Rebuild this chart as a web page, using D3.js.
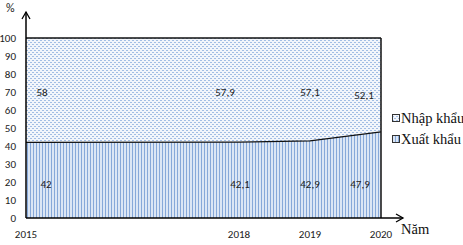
<!DOCTYPE html>
<html><head><meta charset="utf-8">
<script src="https://cdn.jsdelivr.net/npm/d3@7/dist/d3.min.js"></script>
<style>
html,body{margin:0;padding:0;background:#fff;}
svg{display:block;}
.tick-t{font-family:Carlito,"Liberation Sans Narrow","Liberation Sans",sans-serif;font-size:11px;fill:#222;}
.ser{font-family:"Liberation Serif","Times New Roman",serif;font-size:14.5px;fill:#111;}
</style></head>
<body>
<svg id="c" width="463" height="245"></svg>
<script>
const years = [2015, 2018, 2019, 2020];
const xuatKhau = [42, 42.1, 42.9, 47.9];
const nhapKhau = [58, 57.9, 57.1, 52.1];
const yTicks = [0,10,20,30,40,50,60,70,80,90,100];
const seriesNames = ["Nhập khẩu", "Xuất khẩu"];
const topLabels = ["58", "57,9", "57,1", "52,1"];
const botLabels = ["42", "42,1", "42,9", "47,9"];

const svg = d3.select("#c");
const x = d3.scaleLinear().domain([2015, 2020]).range([26, 381]);
const y = d3.scaleLinear().domain([0, 100]).range([218, 38]);

const defs = svg.append("defs");
// dotted pattern
const pd = defs.append("pattern").attr("id","pDots").attr("patternUnits","userSpaceOnUse")
  .attr("width",4).attr("height",4);
pd.append("rect").attr("width",4).attr("height",4).attr("fill","#f3f6fb");
pd.append("rect").attr("x",0).attr("y",0).attr("width",2).attr("height",1).attr("fill","#a3bee4");
pd.append("rect").attr("x",2).attr("y",2).attr("width",2).attr("height",1).attr("fill","#a3bee4");
// vertical stripes
const pv = defs.append("pattern").attr("id","pVert").attr("patternUnits","userSpaceOnUse")
  .attr("width",3).attr("height",4);
pv.append("rect").attr("width",3).attr("height",4).attr("fill","#dbe6f5");
pv.append("rect").attr("x",0).attr("width",1).attr("height",4).attr("fill","#86a8d9");

const data = years.map((yr,i)=>({yr, xk:xuatKhau[i], nk:nhapKhau[i]}));

// upper area
svg.append("path").datum(data)
  .attr("d", d3.area().x(d=>x(d.yr)).y0(d=>y(d.xk)).y1(d=>y(d.xk+d.nk)))
  .attr("fill","url(#pDots)");
// lower area
svg.append("path").datum(data)
  .attr("d", d3.area().x(d=>x(d.yr)).y0(y(0)).y1(d=>y(d.xk)))
  .attr("fill","url(#pVert)");
// boundary line
svg.append("path").datum(data)
  .attr("d", d3.line().x(d=>x(d.yr)).y(d=>y(d.xk)))
  .attr("fill","none").attr("stroke","#111").attr("stroke-width",1.3);
// top line
svg.append("path").datum(data)
  .attr("d", d3.line().x(d=>x(d.yr)).y(d=>y(d.xk+d.nk)))
  .attr("fill","none").attr("stroke","#111").attr("stroke-width",1.5);
// right border
svg.append("line").attr("x1",x(2020)).attr("x2",x(2020)).attr("y1",y(100)).attr("y2",y(0))
  .attr("stroke","#111").attr("stroke-width",1.5);

// axes
svg.append("line").attr("x1",x(2015)).attr("x2",x(2015)).attr("y1",y(0)).attr("y2",12)
  .attr("stroke","#000").attr("stroke-width",1.5);
svg.append("path").attr("d",`M${x(2015)-4},19 L${x(2015)},12 L${x(2015)+4},19`)
  .attr("fill","none").attr("stroke","#000").attr("stroke-width",1.3);
svg.append("line").attr("x1",x(2015)).attr("x2",403).attr("y1",y(0)).attr("y2",y(0))
  .attr("stroke","#000").attr("stroke-width",1.5);
svg.append("path").attr("d",`M396,${y(0)-4} L403,${y(0)} L396,${y(0)+4}`)
  .attr("fill","none").attr("stroke","#000").attr("stroke-width",1.3);

// y tick labels
svg.selectAll(".yt").data(yTicks).enter().append("text")
  .attr("class","tick-t").attr("x",16).attr("y",d=>y(d)).attr("dy","0.35em")
  .attr("text-anchor","end").text(d=>d);
// x tick labels
svg.selectAll(".xt").data(years).enter().append("text")
  .attr("class","tick-t").attr("x",d=>x(d)).attr("y",238)
  .attr("text-anchor","middle").text(d=>d);

svg.append("text").attr("class","tick-t").attr("x",6).attr("y",12).style("font-size","12px").text("%");
svg.append("text").attr("class","ser").attr("x",401).attr("y",234).text("Năm");

// value labels
const topDx = [16, -14, 0, -17];
const topVal = [70, 70, 70, 68.5];
const botDx = [20, 1, 0, -21];
svg.selectAll(".tl").data(data).enter().append("text")
  .attr("class","tick-t").attr("x",(d,i)=>x(d.yr)+topDx[i]).attr("y",(d,i)=>y(topVal[i]))
  .attr("dy","0.35em").attr("text-anchor","middle").text((d,i)=>topLabels[i]);
svg.selectAll(".bl").data(data).enter().append("text")
  .attr("class","tick-t").attr("x",(d,i)=>x(d.yr)+botDx[i]).attr("y",y(19))
  .attr("dy","0.35em").attr("text-anchor","middle").text((d,i)=>botLabels[i]);

// legend
const lg = svg.append("g").attr("transform","translate(392,0)");
const fills = ["url(#pDots)","url(#pVert)"];
const lys = [118, 139];
seriesNames.forEach((n,i)=>{
  lg.append("rect").attr("x",0.5).attr("y",lys[i]-3.5).attr("width",7).attr("height",7)
    .attr("fill",fills[i]).attr("stroke","#333").attr("stroke-width",1);
  lg.append("text").attr("class","ser").attr("x",9).attr("y",lys[i]+4.5).text(n);
});
</script>
</body></html>
